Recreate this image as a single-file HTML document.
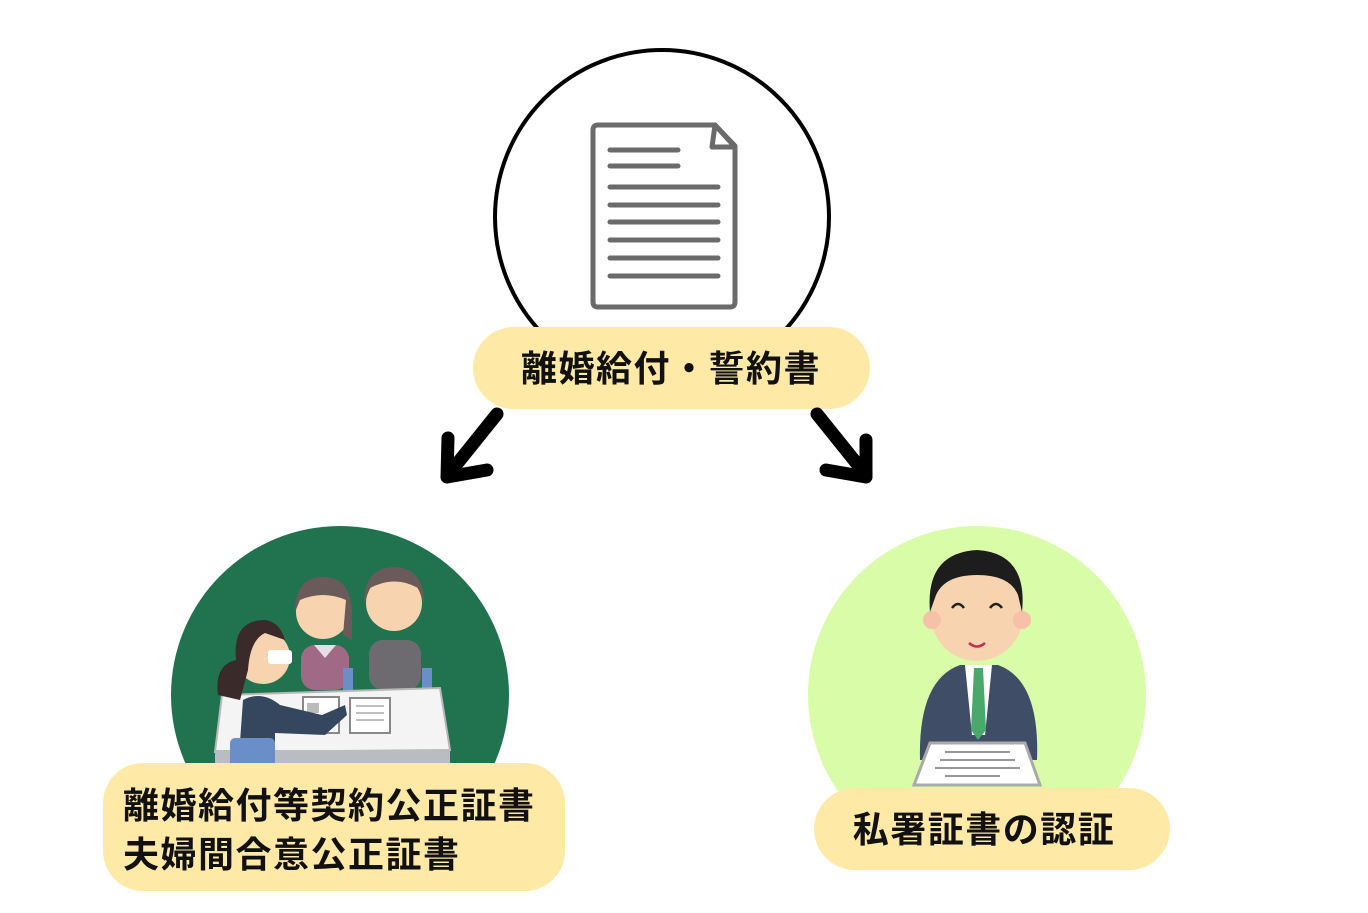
<!DOCTYPE html>
<html><head><meta charset="utf-8"><style>
html,body{margin:0;padding:0;background:#fff;}
svg{display:block}
text{font-family:"Liberation Sans","Noto Sans CJK JP",sans-serif;font-weight:bold;fill:#111;letter-spacing:1.5px;}
</style></head><body>
<svg width="1368" height="913" viewBox="0 0 1368 913" xmlns="http://www.w3.org/2000/svg">
<circle cx="662" cy="217" r="167" fill="#fff" stroke="#000" stroke-width="4"/>
<path d="M598 125 H715 L735 146 V302 Q735 307 730 307 H598 Q593 307 593 302 V130 Q593 125 598 125 Z" fill="#fff" stroke="#6a6a6a" stroke-width="5" stroke-linejoin="round"/>
<path d="M715 125 L712 147 L735 147 Z" fill="#fff" stroke="#6a6a6a" stroke-width="5" stroke-linejoin="round"/>
<g stroke="#6a6a6a" stroke-width="5" stroke-linecap="round">
<line x1="610" y1="150" x2="678" y2="150"/><line x1="610" y1="166" x2="678" y2="166"/>
<line x1="610" y1="187" x2="718" y2="187"/><line x1="610" y1="205" x2="718" y2="205"/>
<line x1="610" y1="222" x2="718" y2="222"/><line x1="610" y1="240" x2="718" y2="240"/>
<line x1="610" y1="258" x2="718" y2="258"/><line x1="610" y1="276" x2="718" y2="276"/>
</g>
<rect x="473" y="327" width="397" height="82" rx="41" fill="#ffe9a6"/>
<text x="671" y="381" font-size="36" text-anchor="middle">離婚給付・誓約書</text>
<g stroke="#000" stroke-width="13" stroke-linecap="round" stroke-linejoin="round" fill="none">
<line x1="497" y1="414" x2="452" y2="470"/>
<polyline points="448,438 447,477 487,470"/>
<line x1="817" y1="414" x2="862" y2="470"/>
<polyline points="866,440 866,477 826,470"/>
</g>
<circle cx="340" cy="695" r="169" fill="#217350"/>
<g>
<rect x="369" y="640" width="52" height="50" rx="14" fill="#6e6b70"/>
<circle cx="394" cy="603" r="28" fill="#f8d3b0"/>
<path d="M364 603 Q364 568 394 567 Q424 568 424 603 L418 588 Q395 575 370 588 Z" fill="#6a5a5a"/>
<rect x="301" y="645" width="48" height="45" rx="14" fill="#a06a86"/>
<path d="M314 645 L325 658 L336 645 Z" fill="#e8dce8"/>
<circle cx="323" cy="612" r="27" fill="#f8d3b0"/>
<path d="M295 612 Q295 577 323 577 Q352 577 352 615 L352 640 L343 635 L346 600 Q323 590 300 600 Z" fill="#6a5a5a"/>
<rect x="343" y="668" width="10" height="22" fill="#6a8fc8"/><rect x="422" y="668" width="10" height="22" fill="#6a8fc8"/>
<path d="M222 695 L440 688 L450 750 L215 752 Z" fill="#f4f4f4" stroke="#b8b8b8" stroke-width="2"/>
<rect x="215" y="750" width="235" height="20" fill="#b9bcc2"/>
<rect x="303" y="697" width="36" height="36" fill="#fff" stroke="#888" stroke-width="2"/>
<rect x="307" y="703" width="12" height="10" fill="#bbb"/>
<rect x="350" y="698" width="40" height="35" fill="#fff" stroke="#888" stroke-width="2"/>
<g stroke="#aaa" stroke-width="1.5"><line x1="356" y1="706" x2="384" y2="706"/><line x1="356" y1="713" x2="384" y2="713"/><line x1="356" y1="720" x2="384" y2="720"/></g>
<path d="M243 700 Q262 690 280 705 L322 715 L345 705 L347 715 L325 735 L275 733 L275 770 L238 770 Z" fill="#34475e"/>
<rect x="230" y="738" width="45" height="32" rx="5" fill="#6a8fc8"/>
<circle cx="263" cy="657" r="27" fill="#f8d3b0"/>
<path d="M236 660 Q232 620 265 620 Q280 622 285 640 L265 633 Q250 640 248 670 L240 700 L218 695 Q214 665 236 660 Z" fill="#3a2a2a"/>
<rect x="268" y="650" width="24" height="14" rx="3" fill="#fff"/>
</g>
<rect x="103" y="763" width="462" height="128" rx="40" fill="#ffe9a6"/>
<text x="123" y="818" font-size="36">離婚給付等契約公正証書</text>
<text x="123" y="867" font-size="36">夫婦間合意公正証書</text>
<circle cx="977" cy="695" r="169" fill="#d8fca8"/>
<g>
<path d="M920 760 Q918 680 960 665 L998 665 Q1040 680 1037 760 Z" fill="#3f4d66"/>
<path d="M965 665 L992 665 L985 735 L972 735 Z" fill="#fff"/>
<path d="M974 668 L983 668 L986 730 L978 740 L971 730 Z" fill="#49a86a"/>
<circle cx="977" cy="615" r="46" fill="#f8d3b0"/>
<circle cx="932" cy="620" r="9" fill="#f7c0a8"/><circle cx="1022" cy="620" r="9" fill="#f7c0a8"/>
<path d="M930 612 Q925 553 977 550 Q1028 553 1022 612 L1018 595 Q1010 575 977 575 Q945 575 936 595 Z" fill="#1d1d1d"/>
<path d="M952 608 Q958 600 964 608 M990 608 Q996 600 1002 608" stroke="#222" stroke-width="2.5" fill="none"/>
<path d="M969 643 Q977 650 985 643" stroke="#c0304a" stroke-width="2.5" fill="none"/>
<path d="M930 743 L1025 743 L1040 785 L914 785 Z" fill="#fff" stroke="#aaa" stroke-width="3"/>
<g stroke="#777" stroke-width="1.5"><line x1="945" y1="752" x2="1010" y2="752"/><line x1="940" y1="760" x2="1015" y2="760"/><line x1="935" y1="768" x2="1020" y2="768"/><line x1="945" y1="776" x2="1000" y2="776"/></g>
</g>
<rect x="814" y="788" width="356" height="82" rx="41" fill="#ffe9a6"/>
<text x="984" y="842" font-size="36" text-anchor="middle">私署証書の認証</text>
</svg>
</body></html>
